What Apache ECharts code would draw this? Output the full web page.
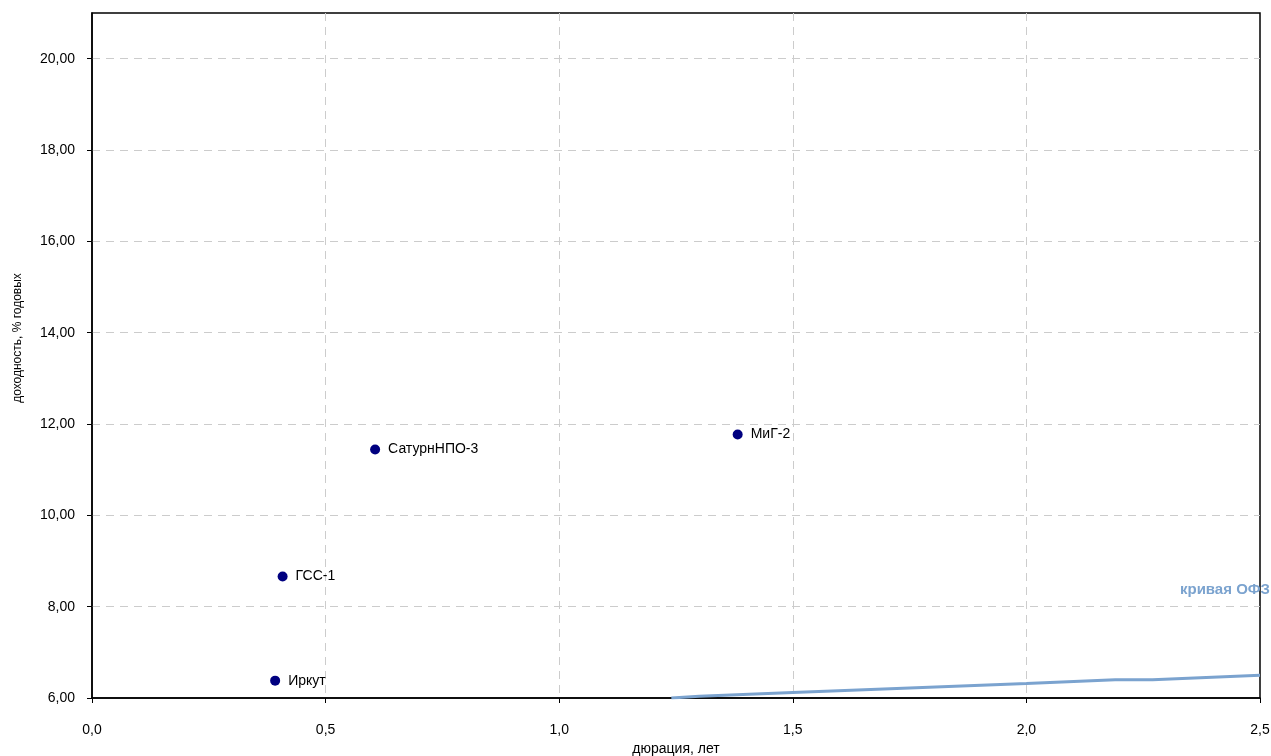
<!DOCTYPE html>
<html><head><meta charset="utf-8">
<script src="https://cdn.jsdelivr.net/npm/echarts@6/dist/echarts.min.js"></script>
<style>html,body{margin:0;padding:0;background:#fff}#c{width:1271px;height:756px}</style>
</head><body><div id="c"></div>
<script>
const bondNames = ['Иркут', 'ГСС-1', 'СатурнНПО-3', 'МиГ-2'];
const bondDuration = [0.392, 0.408, 0.606, 1.382];
const bondYield = [6.38, 8.66, 11.44, 11.77];
const ofzDuration = [1.24, 1.30, 1.50, 1.75, 2.00, 2.19, 2.27, 2.50];
const ofzYield = [6.00, 6.04, 6.12, 6.22, 6.32, 6.40, 6.40, 6.50];
const curveLabel = 'кривая ОФЗ';
const xName = 'дюрация, лет';
const yName = 'доходность, % годовых';

const chart = echarts.init(document.getElementById('c'));
const font = 'Liberation Sans, Arial, sans-serif';
chart.setOption({
  animation: false,
  textStyle: {fontFamily: font},
  grid: {left: 92, right: 11, top: 13, bottom: 58, outerBoundsMode: 'none', containLabel: false,
         show: true, borderColor: '#000', borderWidth: 1.5},
  xAxis: {
    type: 'value', min: 0, max: 2.5, interval: 0.5,
    name: xName, nameLocation: 'middle', nameGap: 37,
    nameTextStyle: {color: '#000', fontSize: 14, fontFamily: font},
    axisLine: {show: true, onZero: false, lineStyle: {color: '#000', width: 1.5}},
    axisTick: {show: true, length: 5, lineStyle: {color: '#000'}},
    axisLabel: {color: '#000', fontSize: 14, margin: 25, formatter: v => v.toFixed(1).replace('.', ',')},
    splitLine: {show: true, showMinLine: false, showMaxLine: false, lineStyle: {color: '#cccccc', type: [8, 6]}}
  },
  yAxis: {
    type: 'value', min: 6, max: 21, interval: 2,
    axisLine: {show: true, onZero: false, lineStyle: {color: '#000', width: 1.5}},
    axisTick: {show: true, length: 5, lineStyle: {color: '#000'}},
    axisLabel: {color: '#000', fontSize: 14, margin: 17, showMaxLabel: false, formatter: v => v.toFixed(2).replace('.', ',')},
    splitLine: {show: true, showMinLine: false, showMaxLine: false, lineStyle: {color: '#cccccc', type: [8, 6]}}
  },
  series: [
    {
      type: 'line', data: ofzDuration.map((d, i) => [d, ofzYield[i]]),
      showSymbol: false, lineStyle: {color: '#7ba3cf', width: 3}, z: 2
    },
    {
      type: 'scatter', data: bondDuration.map((d, i) => [d, bondYield[i], bondNames[i]]),
      symbolSize: 10, itemStyle: {color: '#000080', opacity: 1},
      label: {show: true, position: 'right', distance: 8, color: '#000', fontSize: 14, fontFamily: font, formatter: p => p.data[2]},
      z: 3
    }
  ],
  graphic: [
    {
      type: 'text', right: 1, top: 582,
      style: {text: curveLabel, fill: '#7ba3cf', font: 'bold 15px ' + font}
    },
    {
      type: 'text', x: 18, y: 338, rotation: Math.PI / 2,
      style: {text: yName, fill: '#000', font: '12px ' + font, align: 'center', verticalAlign: 'middle'}
    }
  ]
});
</script></body></html>
